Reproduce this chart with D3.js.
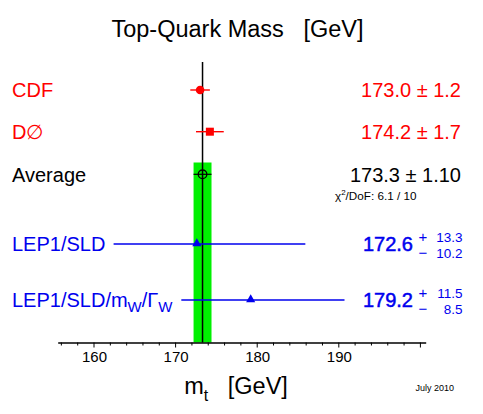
<!DOCTYPE html>
<html>
<head>
<meta charset="utf-8">
<script src="https://cdn.jsdelivr.net/npm/d3@7"></script>
<style>
  body { margin: 0; background: #fff; }
  svg { display: block; font-family: "Liberation Sans", Arial, sans-serif; }
</style>
</head>
<body>
<div id="chart"></div>
<script>
// measurements (GeV)
const labels = ["CDF", "D∅", "Average", "LEP1/SLD", "LEP1/SLD/mW/ΓW"];
const values = [173.0, 174.2, 173.3, 172.6, 179.2];
const errLo = [1.2, 1.7, 1.1, 10.2, 8.5];
const errHi = [1.2, 1.7, 1.1, 13.3, 11.5];
const valueText = ["173.0 ± 1.2", "174.2 ± 1.7", "173.3 ± 1.10", "172.6", "179.2"];
const colors = ["#ff0000", "#ff0000", "#000000", "#0000ee", "#0000ee"];
const markers = ["circle", "square", "open", "triangle", "triangle"];
const tickValues = [160, 170, 180, 190];
const avg = 173.3, avgErr = 1.1;

const width = 483, height = 414;
const svg = d3.select("#chart").append("svg")
  .attr("width", width).attr("height", height);

const x = d3.scaleLinear().domain([155.55, 200.65]).range([57.7, 425.7]);
// rows are not evenly spaced in the original
const rowY = [90, 131.7, 174.3, 244, 300];
const axisY = 342.5;

// green band for the average
svg.append("rect")
  .attr("x", x(avg - avgErr)).attr("width", x(avg + avgErr) - x(avg - avgErr))
  .attr("y", 162.5).attr("height", axisY - 162.5)
  .attr("fill", "#00f000");

// vertical line at the average
svg.append("line")
  .attr("x1", x(avg)).attr("x2", x(avg))
  .attr("y1", 62).attr("y2", axisY)
  .attr("stroke", "#000").attr("stroke-width", 1.5);

// error bars
svg.selectAll("line.err")
  .data(labels)
  .enter()
  .append("line")
  .attr("class", "err")
  .attr("x1", (d, i) => x(values[i] - errLo[i]))
  .attr("x2", (d, i) => x(values[i] + errHi[i]))
  .attr("y1", (d, i) => rowY[i]).attr("y2", (d, i) => rowY[i])
  .attr("stroke", (d, i) => colors[i])
  .attr("stroke-width", (d, i) => i === 2 ? 1.2 : 1.4);

// markers
labels.forEach((d, i) => {
  const cx = x(values[i]), cy = rowY[i];
  if (markers[i] === "circle") {
    svg.append("circle").attr("cx", cx).attr("cy", cy).attr("r", 4.3).attr("fill", colors[i]);
  } else if (markers[i] === "square") {
    svg.append("rect").attr("x", cx - 4).attr("y", cy - 4).attr("width", 8).attr("height", 8).attr("fill", colors[i]);
  } else if (markers[i] === "open") {
    svg.append("circle").attr("cx", cx).attr("cy", cy).attr("r", 4.3)
      .attr("fill", "none").attr("stroke", "#000").attr("stroke-width", 1.3);
  } else {
    svg.append("path")
      .attr("d", d3.symbol(d3.symbolTriangle, 36)())
      .attr("transform", `translate(${cx},${cy - 0.5})`)
      .attr("fill", colors[i]);
  }
});

// left labels
const left = svg.selectAll("text.lab")
  .data(labels)
  .enter()
  .append("text")
  .attr("class", "lab")
  .attr("x", 12)
  .attr("y", (d, i) => rowY[i] + 7.2)
  .attr("font-size", 20)
  .attr("fill", (d, i) => colors[i]);
left.each(function(d, i) {
  const t = d3.select(this);
  if (i === 4) {
    t.append("tspan").text("LEP1/SLD/m");
    t.append("tspan").attr("font-size", 15).attr("dy", 5).text("W");
    t.append("tspan").attr("dy", -5).text("/Γ");
    t.append("tspan").attr("font-size", 15).attr("dy", 5).text("W");
  } else {
    t.text(d);
  }
});

// right values
svg.selectAll("text.val")
  .data(valueText)
  .enter()
  .append("text")
  .attr("class", "val")
  .attr("x", (d, i) => i < 3 ? 461 : 413)
  .attr("y", (d, i) => rowY[i] + 7.2)
  .attr("text-anchor", "end")
  .attr("font-size", 20)
  .attr("fill", (d, i) => colors[i])
  .attr("stroke", (d, i) => i < 3 ? "none" : colors[i])
  .attr("stroke-width", 0.5)
  .text(d => d);

// asymmetric errors
[3, 4].forEach(i => {
  const g = svg.append("g").attr("fill", colors[i]).attr("font-size", 13.5);
  g.append("text").attr("x", 423).attr("y", rowY[i] - 2.5).attr("text-anchor", "middle").attr("font-size", 15).text("+");
  g.append("text").attr("x", 423).attr("y", rowY[i] + 14.3).attr("text-anchor", "middle").attr("font-size", 15).text("−");
  g.append("text").attr("x", 462.5).attr("y", rowY[i] - 2.5).attr("text-anchor", "end").text(errHi[i].toFixed(1));
  g.append("text").attr("x", 462.5).attr("y", rowY[i] + 14.3).attr("text-anchor", "end").text(errLo[i].toFixed(1));
});

// chi2 note
const chi = svg.append("text").attr("x", 335).attr("y", 200).attr("font-size", 11.7).attr("fill", "#000");
chi.append("tspan").text("χ");
chi.append("tspan").attr("font-size", 8).attr("dy", -5).text("2");
chi.append("tspan").attr("dy", 5).text("/DoF: 6.1 / 10");

// x axis
const axis = d3.axisBottom(x).tickValues(tickValues).tickSize(0).tickPadding(9).tickFormat(d3.format("d"));
const ax = svg.append("g").attr("transform", `translate(0,${axisY})`).call(axis);
ax.select(".domain").attr("stroke", "#000").attr("stroke-width", 1.4);
ax.selectAll("text").attr("font-size", 15).attr("font-family", "Liberation Sans, Arial, sans-serif");

// major/minor ticks
const minor = d3.range(156, 201, 2);
svg.append("g").selectAll("line")
  .data(minor)
  .enter()
  .append("line")
  .attr("x1", d => x(d)).attr("x2", d => x(d))
  .attr("y1", axisY).attr("y2", d => axisY + (d % 10 === 0 ? 5 : 3))
  .attr("stroke", "#000").attr("stroke-width", 1);

// title
svg.append("text")
  .attr("x", 237.5).attr("y", 37)
  .attr("text-anchor", "middle")
  .attr("font-size", 23.5)
  .attr("xml:space", "preserve")
  .text("Top-Quark Mass   [GeV]");

// x label
const xl = svg.append("text")
  .attr("x", 236).attr("y", 393.5)
  .attr("text-anchor", "middle")
  .attr("font-size", 23.5)
  .attr("xml:space", "preserve");
xl.append("tspan").text("m");
xl.append("tspan").attr("font-size", 16).attr("dy", 7).text("t");
xl.append("tspan").attr("dy", -7).text("   [GeV]");

svg.append("text")
  .attr("x", 454).attr("y", 391)
  .attr("text-anchor", "end")
  .attr("font-size", 9)
  .text("July 2010");
</script>
</body>
</html>
